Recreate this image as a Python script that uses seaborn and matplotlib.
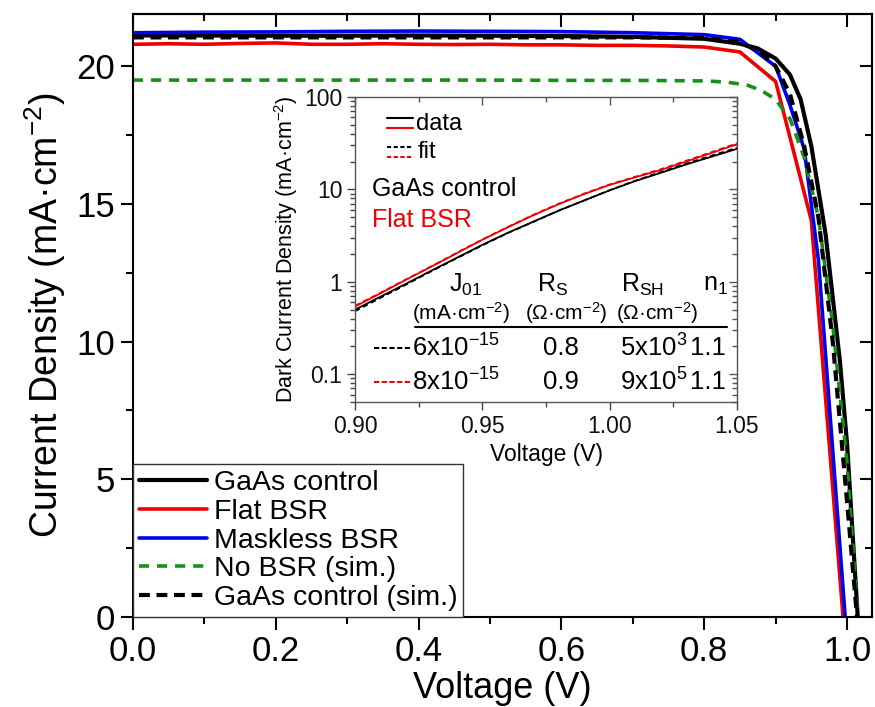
import numpy as np
import pandas as pd
import matplotlib
matplotlib.use("Agg")
import matplotlib.pyplot as plt
import seaborn as sns
from matplotlib.ticker import MultipleLocator, FixedLocator, FuncFormatter, LogLocator, NullFormatter

# ---------------- data ----------------
# Main J-V curves
V_ctrl = [0.0, 0.1, 0.2, 0.3, 0.4, 0.5, 0.6, 0.7, 0.8, 0.85, 0.875, 0.9, 0.92, 0.935, 0.95, 0.97, 0.99, 1.0, 1.015, 1.03]
J_ctrl = [21.12, 21.12, 21.11, 21.11, 21.12, 21.11, 21.10, 21.07, 21.0, 20.82, 20.65, 20.28, 19.7, 18.8, 17.1, 13.9, 9.3, 6.3, 0.0, -6.0]

V_flat = [0.0, 0.05, 0.1, 0.15, 0.2, 0.25, 0.3, 0.35, 0.4, 0.45, 0.5, 0.55, 0.6, 0.65, 0.7, 0.75, 0.8, 0.85, 0.9, 0.95, 1.0]
J_flat = [20.80, 20.82, 20.80, 20.83, 20.85, 20.80, 20.80, 20.82, 20.80, 20.79, 20.80, 20.78, 20.78, 20.76, 20.76, 20.74, 20.70, 20.52, 19.45, 14.4, -1.8]

V_mask = [0.0, 0.1, 0.2, 0.3, 0.4, 0.5, 0.6, 0.7, 0.8, 0.85, 0.9, 0.92, 0.94, 0.96, 0.98, 1.0]
J_mask = [21.22, 21.24, 21.25, 21.27, 21.28, 21.27, 21.26, 21.22, 21.15, 20.98, 20.0, 18.6, 17.0, 12.95, 6.04, -0.9]

V_nobsr = [0.0, 0.1, 0.2, 0.3, 0.4, 0.5, 0.6, 0.7, 0.8, 0.83, 0.86, 0.88, 0.9, 0.92, 0.94, 0.96, 0.98, 1.0, 1.015, 1.03]
J_nobsr = [19.50, 19.50, 19.50, 19.50, 19.50, 19.50, 19.49, 19.49, 19.47, 19.43, 19.32, 19.12, 18.8, 18.1, 16.7, 14.5, 10.6, 5.6, 0.0, -6.0]

V_sim = [0.0, 0.1, 0.2, 0.3, 0.4, 0.5, 0.6, 0.7, 0.8, 0.85, 0.88, 0.9, 0.92, 0.94, 0.96, 0.98, 1.0, 1.014, 1.03]
J_sim = [21.05, 21.05, 21.05, 21.05, 21.05, 21.05, 21.05, 21.05, 21.03, 20.87, 20.5, 20.0, 19.0, 17.1, 14.5, 10.0, 4.2, 0.0, -5.0]

labels_main = ["GaAs control", "Flat BSR", "Maskless BSR", "No BSR (sim.)", "GaAs control (sim.)"]

# Inset: dark J-V
V_dark = [0.90, 0.91, 0.92, 0.93, 0.94, 0.95, 0.96, 0.97, 0.98, 0.99, 1.00, 1.01, 1.02, 1.03, 1.04, 1.05]
Jd_ctrl = [0.50, 0.69, 0.95, 1.32, 1.82, 2.51, 3.39, 4.47, 5.89, 7.59, 9.77, 12.3, 15.1, 18.6, 22.6, 27.5]
Jd_ctrl_fit = [0.48, 0.67, 0.93, 1.30, 1.80, 2.48, 3.37, 4.45, 5.90, 7.60, 9.80, 12.4, 15.4, 19.0, 23.2, 28.2]
Jd_flat = [0.54, 0.75, 1.05, 1.46, 2.04, 2.85, 3.89, 5.25, 6.92, 8.91, 11.2, 13.5, 16.2, 20.0, 24.8, 30.9]
Jd_flat_fit = [0.55, 0.76, 1.06, 1.47, 2.06, 2.87, 3.92, 5.30, 7.00, 9.00, 11.3, 13.7, 16.5, 20.4, 25.3, 31.6]

# Inset table
tab_J01 = ["6x10$^{-15}$", "8x10$^{-15}$"]
tab_RS = ["0.8", "0.9"]
tab_RSH = ["5x10$^{3}$", "9x10$^{5}$"]
tab_n1 = ["1.1", "1.1"]

xticks_main = [0.0, 0.2, 0.4, 0.6, 0.8, 1.0]
yticks_main = [0, 5, 10, 15, 20]
xticks_in = [0.90, 0.95, 1.00, 1.05]
yticks_in = [0.1, 1, 10, 100]

# ---------------- style ----------------
sns.set_theme(style="ticks")
plt.rcParams["font.family"] = ["Liberation Sans", "DejaVu Sans"]
plt.rcParams["mathtext.fontset"] = "custom"
plt.rcParams["mathtext.rm"] = "Liberation Sans"
plt.rcParams["mathtext.it"] = "Liberation Sans:italic"
plt.rcParams["mathtext.bf"] = "Liberation Sans:bold"
plt.rcParams["mathtext.default"] = "regular"
plt.rcParams["axes.linewidth"] = 1.5
for k in ["text.color", "axes.labelcolor", "xtick.color", "ytick.color", "axes.edgecolor"]:
    plt.rcParams[k] = "black"

GREEN = "#169116"
RED = "#ee0000"
BLUE = "#0000ee"

fig = plt.figure(figsize=(8.75, 7.07), dpi=100)
ax = fig.add_axes([0.152, 0.1273, 0.8446, 0.8529])

series = [
    (V_ctrl, J_ctrl, "black", 3.0, "-"),
    (V_flat, J_flat, RED, 2.6, "-"),
    (V_mask, J_mask, BLUE, 2.6, "-"),
    (V_nobsr, J_nobsr, GREEN, 2.6, (0, (2.8, 2.2))),
    (V_sim, J_sim, "black", 3.0, (0, (2.6, 1.6))),
]
for (vv, jj, col, lw, ls), lab in zip(series, labels_main):
    df = pd.DataFrame({"V": vv, "J": jj})
    sns.lineplot(data=df, x="V", y="J", ax=ax, color=col, linewidth=lw,
                 linestyle=ls, label=lab, sort=False, estimator=None)

ax.set_xlim(0, 1.035)
ax.set_ylim(0, 21.9)
ax.xaxis.set_major_locator(FixedLocator(xticks_main))
ax.xaxis.set_minor_locator(MultipleLocator(0.1))
ax.yaxis.set_major_locator(FixedLocator(yticks_main))
ax.yaxis.set_minor_locator(MultipleLocator(2.5))
ax.xaxis.set_major_formatter(FuncFormatter(lambda v, p: f"{v:.1f}"))
ax.tick_params(which="both", direction="out", width=1.5, labelsize=25, pad=4)
ax.tick_params(which="major", length=9)
ax.tick_params(which="minor", length=5)
ax.set_xlabel("Voltage (V)", fontsize=26, labelpad=2)
ax.set_ylabel("Current Density (mA·cm$^{-2}$)", fontsize=27, labelpad=6)
for s in ax.spines.values():
    s.set_visible(True)
    s.set_linewidth(1.5)

# mirrored inward ticks on top/right
sx = ax.secondary_xaxis("top")
sx.xaxis.set_major_locator(FixedLocator(xticks_main))
sx.xaxis.set_minor_locator(MultipleLocator(0.1))
sx.tick_params(which="both", direction="in", width=1.5, labeltop=False)
sx.tick_params(which="major", length=9)
sx.tick_params(which="minor", length=5)
sy = ax.secondary_yaxis("right")
sy.yaxis.set_major_locator(FixedLocator(yticks_main))
sy.yaxis.set_minor_locator(MultipleLocator(2.5))
sy.tick_params(which="both", direction="in", width=1.5, labelright=False)
sy.tick_params(which="major", length=9)
sy.tick_params(which="minor", length=5)

leg = ax.legend(loc="lower left", bbox_to_anchor=(0, 0), borderaxespad=0,
                fontsize=20.5, frameon=True, fancybox=False, edgecolor="#333333",
                framealpha=1, handlelength=2.4, handletextpad=0.25,
                labelspacing=0.1, borderpad=0.2)
leg.get_frame().set_linewidth(1.0)

# ---------------- inset ----------------
axin = fig.add_axes([0.4057, 0.4314, 0.4366, 0.4314])
axin.set_facecolor("white")
inset_series = [
    (Jd_ctrl, "black", "-"),
    (Jd_flat, RED, "-"),
    (Jd_ctrl_fit, "black", (0, (3, 2))),
    (Jd_flat_fit, RED, (0, (3, 2))),
]
for jj, col, ls in inset_series:
    df = pd.DataFrame({"V": V_dark, "J": jj})
    sns.lineplot(data=df, x="V", y="J", ax=axin, color=col, linewidth=1.3,
                 linestyle=ls, sort=False, estimator=None)
axin.set_yscale("log")
axin.set_xlim(0.90, 1.05)
axin.set_ylim(0.05, 100)
axin.xaxis.set_major_locator(FixedLocator(xticks_in))
axin.xaxis.set_minor_locator(MultipleLocator(0.025))
axin.xaxis.set_major_formatter(FuncFormatter(lambda v, p: f"{v:.2f}"))
axin.yaxis.set_major_locator(FixedLocator(yticks_in))
axin.yaxis.set_minor_locator(LogLocator(base=10, subs=np.arange(2, 10)))
axin.yaxis.set_minor_formatter(NullFormatter())
axin.yaxis.set_major_formatter(FuncFormatter(lambda v, p: f"{v:g}"))
axin.tick_params(which="both", direction="out", width=1.0, labelsize=16.5, pad=3,
                 color="#444444", labelcolor="#111111")
axin.tick_params(which="major", length=6)
axin.tick_params(which="minor", length=3.5)
axin.set_xlabel("Voltage (V)", fontsize=16.5, labelpad=4)
axin.set_ylabel("Dark Current Density (mA·cm$^{-2}$)", fontsize=15.5, labelpad=3)
for s in axin.spines.values():
    s.set_visible(True)
    s.set_linewidth(1.0)
    s.set_color("#555555")
sxi = axin.secondary_xaxis("top")
sxi.xaxis.set_major_locator(FixedLocator(xticks_in))
sxi.xaxis.set_minor_locator(MultipleLocator(0.025))
sxi.tick_params(which="both", direction="in", width=1.0, labeltop=False, colors="#555555")
sxi.tick_params(which="major", length=6)
sxi.tick_params(which="minor", length=3.5)
sxi.spines["top"].set_visible(False)
syi = axin.secondary_yaxis("right")
syi.yaxis.set_major_locator(FixedLocator(yticks_in))
syi.yaxis.set_minor_locator(LogLocator(base=10, subs=np.arange(2, 10)))
syi.yaxis.set_minor_formatter(NullFormatter())
syi.tick_params(which="both", direction="in", width=1.0, labelright=False, colors="#555555")
syi.tick_params(which="major", length=6)
syi.tick_params(which="minor", length=3.5)
syi.spines["right"].set_visible(False)

T = axin.transAxes
# inset key: data / fit
axin.plot([0.084, 0.152], [0.930, 0.930], color="black", lw=1.5, transform=T)
axin.plot([0.084, 0.152], [0.897, 0.897], color=RED, lw=1.5, transform=T)
axin.text(0.160, 0.913, "data", fontsize=17, va="center", ha="left", transform=T)
axin.plot([0.084, 0.152], [0.835, 0.835], color="black", lw=1.5, ls=(0, (2, 1.2)), transform=T)
axin.plot([0.084, 0.152], [0.803, 0.803], color=RED, lw=1.5, ls=(0, (2, 1.2)), transform=T)
axin.text(0.165, 0.819, "fit", fontsize=17, va="center", ha="left", transform=T)
axin.text(0.045, 0.698, "GaAs control", fontsize=18, va="center", ha="left", transform=T)
axin.text(0.045, 0.597, "Flat BSR", fontsize=18, va="center", ha="left", color=RED, transform=T)

# table
hy, uy = 0.384, 0.292
axin.text(0.290, hy, "J$_{01}$", fontsize=18, ha="center", va="center", transform=T)
axin.text(0.516, hy, "R$_{S}$", fontsize=18, ha="center", va="center", transform=T)
axin.text(0.754, hy, "R$_{SH}$", fontsize=18, ha="center", va="center", transform=T)
axin.text(0.945, hy, "n$_{1}$", fontsize=18, ha="center", va="center", transform=T)
axin.text(0.278, uy, "(mA·cm$^{-2}$)", fontsize=15, ha="center", va="center", transform=T)
axin.text(0.553, uy, "(Ω·cm$^{-2}$)", fontsize=15, ha="center", va="center", transform=T)
axin.text(0.791, uy, "(Ω·cm$^{-2}$)", fontsize=15, ha="center", va="center", transform=T)
axin.plot([0.157, 0.974], [0.246, 0.246], color="black", lw=1.5, transform=T)
row_y = [0.177, 0.066]
row_col = ["black", RED]
for i in range(2):
    y = row_y[i]
    axin.plot([0.050, 0.144], [y, y], color=row_col[i], lw=1.5, ls=(0, (2.5, 1.2)), transform=T)
    axin.text(0.265, y, tab_J01[i], fontsize=18.5, ha="center", va="center", transform=T)
    axin.text(0.540, y, tab_RS[i], fontsize=18.5, ha="center", va="center", transform=T)
    axin.text(0.782, y, tab_RSH[i], fontsize=18.5, ha="center", va="center", transform=T)
    axin.text(0.924, y, tab_n1[i], fontsize=18.5, ha="center", va="center", transform=T)

fig.savefig("out.png", dpi=100)
